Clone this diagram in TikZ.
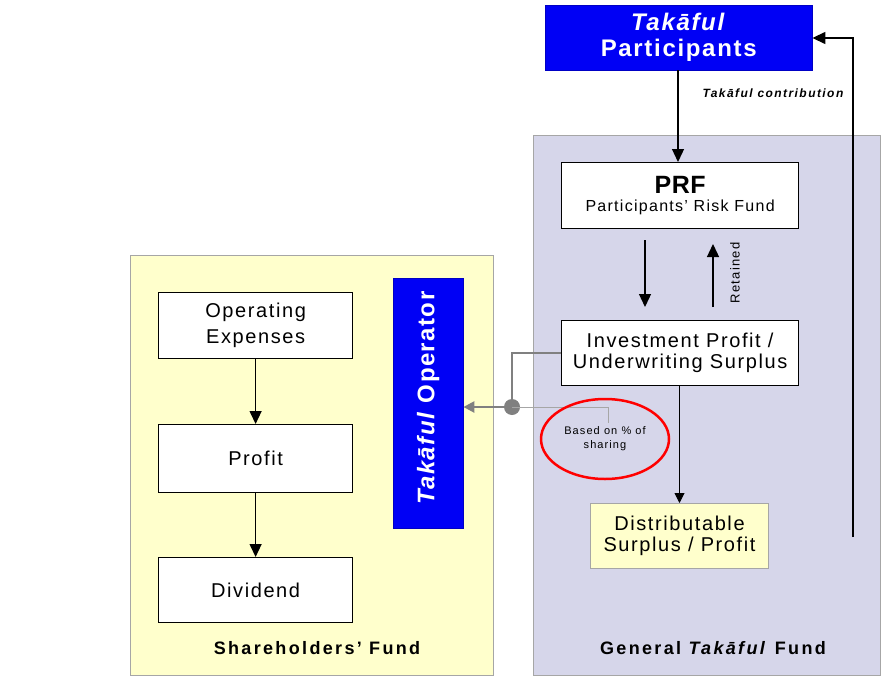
\documentclass[tikz,border=0pt]{standalone}
\usepackage{fontspec}
\setmainfont{Liberation Sans}
\usetikzlibrary{arrows.meta,shapes.geometric}
\newcommand\myls[1]{\addfontfeature{LetterSpace=#1}}
\definecolor{lav}{RGB}{214,214,234}
\definecolor{pyel}{RGB}{255,255,204}
\definecolor{bblue}{RGB}{0,0,245}
\definecolor{dgray}{RGB}{128,128,128}
\begin{document}
\begin{tikzpicture}[x=1pt,y=-1pt,
  fund/.style={draw=gray!70,line width=1pt,anchor=north west,inner sep=0pt},
  wbox/.style={draw=black,line width=1.2pt,fill=white,anchor=north west,inner sep=0pt,align=center,font=\fontsize{20}{21}\selectfont\myls{8}},
  bluebox/.style={draw=bblue!80!black,fill=bblue,anchor=north west,inner sep=0pt,text=white,align=center},
  arr/.style={-{Triangle[length=13pt,width=12pt]},line width=1.3pt},
  garr/.style={-{Triangle[length=11pt,width=11pt]},line width=2.5pt,draw=dgray},
  lbl/.style={font=\bfseries\fontsize{18}{20}\selectfont\myls{13}}]
\useasboundingbox (0,0) rectangle (888,677);
\fill[white] (0,0) rectangle (888,677);
% funds
\node[fund,fill=pyel,minimum width=363pt,minimum height=420pt] (sf) at (130,255) {};
\node[fund,fill=lav,minimum width=347pt,minimum height=540pt] (gf) at (533,135) {};
\node[lbl] (sfl) at (317,648) {Shareholders' Fund};
\node[lbl] (gfl) at (713,648) {General \textit{Takāful} Fund};
% participants
\node[bluebox,minimum width=267pt,minimum height=65pt,font=\bfseries\fontsize{24}{26}\selectfont\myls{7}] (tp) at (545,5) {\textit{Takāful}\\Participants};
% PRF
\node[wbox,minimum width=237pt,minimum height=66pt,font=\fontsize{16}{19}\selectfont\myls{8}] (prf) at (561,162) {{\bfseries\fontsize{25}{25}\selectfont\myls{2} PRF}\\[-1pt]Participants' Risk Fund};
\node[wbox,minimum width=237pt,minimum height=65pt] (inv) at (561,320) {Investment Profit /\\Underwriting Surplus};
\node[wbox,draw=gray!70,line width=1pt,fill=pyel,minimum width=178pt,minimum height=65pt] (dist) at (590,503) {Distributable\\Surplus / Profit};
% shareholders
\node[wbox,minimum width=194pt,minimum height=66pt,font=\fontsize{20}{26}\selectfont\myls{8}] (opex) at (158,292) {Operating\\Expenses};
\node[wbox,minimum width=194pt,minimum height=68pt] (prof) at (158,424) {Profit};
\node[wbox,minimum width=194pt,minimum height=65pt] (div) at (158,557) {Dividend};
\node[bluebox,minimum width=70pt,minimum height=250pt] (to) at (393,278) {};
\node[rotate=90,text=white,font=\bfseries\fontsize{24}{26}\selectfont\myls{6}] (tol) at ([yshift=5pt]to.center) {\textit{Takāful} Operator};
% arrows shareholders
\draw[arr] (opex.south) -- (prof.north);
\draw[arr] (prof.south) -- (div.north);
% participants to PRF
\coordinate (tpb) at (678,70);
\draw[arr] (tpb) -- (678,162);
\node[font=\bfseries\itshape\fontsize{12}{14}\selectfont\myls{12},anchor=west] (tc) at (699,93) {Takāful contribution};
% feedback
\coordinate (fb0) at (853,537);
\coordinate (fb1) at (853,38);
\draw[arr] (fb0) -- (fb1) -- (tp.east |- fb1);
% PRF <-> inv
\coordinate (d1) at (645,240);
\coordinate (d2) at (645,307);
\draw[arr] (d1) -- (d2);
\coordinate (u1) at (713,307);
\coordinate (u2) at (713,244);
\draw[arr] (u1) -- (u2);
\node[rotate=90,font=\fontsize{13}{14}\selectfont\myls{10}] (ret) at (735,273) {Retained};
% inv to dist
\draw[-{Triangle[length=10pt,width=10pt]},line width=0.9pt] (inv.south -| dist.north) -- (dist.north);
% gray connector
\coordinate (dot) at (512,407);
\draw[garr] (inv.west) -| (dot) -- (to.east |- dot);
\fill[dgray] (dot) circle (8pt);
\coordinate (lk) at (608,423);
\draw[dgray!70,line width=1pt] (dot) -- (lk |- dot) -- (lk);
% red ellipse
\node[ellipse,draw=red,line width=2.5pt,minimum width=128pt,minimum height=80pt,align=center,font=\fontsize{11}{14}\selectfont\myls{10},inner sep=0pt] (el) at (605,439) {Based on \% of\\sharing};
\end{tikzpicture}
\end{document}
